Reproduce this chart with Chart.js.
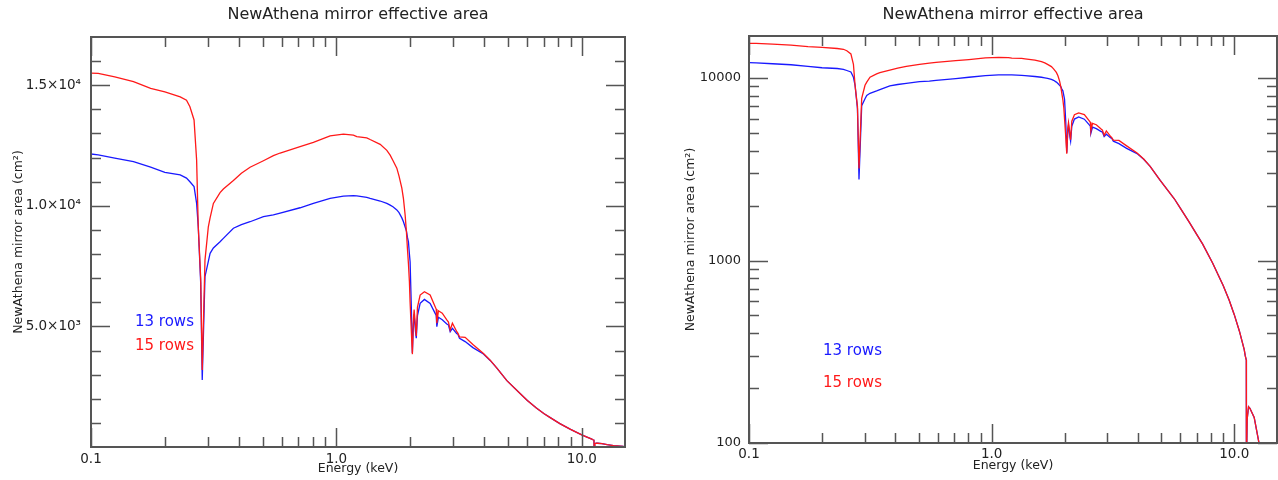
<!DOCTYPE html>
<html>
<head>
<meta charset="utf-8">
<title>NewAthena mirror effective area</title>
<script src="https://cdn.jsdelivr.net/npm/chart.js@4.4.1/dist/chart.umd.min.js"></script>
<style>
  html, body { margin: 0; padding: 0; background: #fff; }
  #wrap { position: relative; width: 1278px; height: 480px; overflow: hidden; }
  .box { position: absolute; top: 0; height: 480px; }
  #boxLin { left: 0; width: 640px; }
  #boxLog { left: 640px; width: 638px; }
</style>
</head>
<body>
<div id="wrap">
  <div class="box" id="boxLin"><canvas id="linChart"></canvas></div>
  <div class="box" id="boxLog"><canvas id="logChart"></canvas></div>
</div>
<script>
// photon energy (keV)
var energy = [
    0.100, 0.107, 0.125, 0.149, 0.175, 0.200, 0.231, 0.245, 0.253, 0.263,
    0.2694, 0.2736, 0.2799, 0.284, 0.2914, 0.3007, 0.3057, 0.3153, 0.3357, 0.3462,
    0.3805, 0.410, 0.4448, 0.5043, 0.5536, 0.5899, 0.7112, 0.8058, 0.9427, 1.068,
    1.173, 1.211, 1.330, 1.372, 1.508, 1.605, 1.656, 1.700, 1.763, 1.800,
    1.848, 1.876, 1.906, 1.930, 1.947, 1.966, 1.984, 1.997, 2.020, 2.040,
    2.060, 2.074, 2.100, 2.116, 2.140, 2.194, 2.284, 2.410, 2.526, 2.551,
    2.566, 2.605, 2.700, 2.818, 2.862, 2.909, 2.970, 3.095, 3.125, 3.174,
    3.347, 3.600, 3.975, 4.233, 4.500, 4.951, 5.660, 6.000, 6.530, 7.000,
    7.410, 8.140, 9.000, 9.530, 10.00, 10.50, 10.99, 11.10, 11.21, 11.22,
    11.30, 11.45, 11.60, 12.08, 12.68, 13.47, 14.79, 15.00
];

// effective area (cm2), 13 rows
var area13 = [
    12150, 12110, 11980, 11830, 11600, 11390, 11280, 11150, 11000, 10800,
    10100, 9130, 6800, 2780, 7060, 7700, 8030, 8250, 8510, 8650,
    9070, 9220, 9340, 9550, 9620, 9700, 9920, 10100, 10310, 10400,
    10420, 10410, 10350, 10310, 10200, 10100, 10030, 9960, 9830, 9720,
    9500, 9340, 9120, 8950, 8700, 8510, 8000, 7680, 5800, 3900,
    5100, 5500, 4800, 4510, 5450, 5960, 6120, 5950, 5540, 5450,
    4990, 5380, 5280, 5100, 5060, 4780, 4920, 4700, 4685, 4510,
    4370, 4120, 3856, 3590, 3280, 2750, 2180, 1930, 1620, 1390,
    1230, 970, 730, 605, 505, 410, 325, 300, 285, 70,
    135, 158, 155, 138, 98, 60, 20, 18
];

// effective area (cm2), 15 rows
var area15 = [
    15500, 15490, 15350, 15150, 14870, 14720, 14520, 14380, 14110, 13560,
    11900, 9130, 7000, 3190, 7750, 9130, 9500, 10100, 10550, 10700,
    11050, 11350, 11600, 11870, 12080, 12190, 12450, 12630, 12900, 12970,
    12930, 12870, 12820, 12750, 12550, 12300, 12100, 11880, 11560, 11230,
    10730, 10300, 9620, 8900, 8240, 7600, 6850, 6000, 4800, 3850,
    5300, 5700, 5000, 4600, 5800, 6300, 6440, 6300, 5820, 5720,
    5130, 5650, 5550, 5270, 5180, 4850, 5130, 4780, 4720, 4570,
    4550, 4250, 3880, 3600, 3280, 2750, 2180, 1930, 1620, 1390,
    1230, 970, 730, 605, 505, 410, 325, 300, 285, 70,
    135, 158, 155, 138, 98, 60, 20, 18
];

// ticks
var xLabelTicks = [0.1, 1, 10];
var xLabelText = ['0.1', '1.0', '10.0'];
var xMinorTicks = [0.2, 0.3, 0.4, 0.5, 0.6, 0.7, 0.8, 0.9, 2, 3, 4, 5, 6, 7, 8, 9];

var linLabelTicks = [5000, 10000, 15000];
var linLabelText = ['5.0\u00d710\u00b3', '1.0\u00d710\u2074', '1.5\u00d710\u2074'];
var linMinorTicks = [1000, 2000, 3000, 4000, 6000, 7000, 8000, 9000, 11000, 12000, 13000, 14000, 16000];

var logLabelTicks = [100, 1000, 10000];
var logLabelText = ['100', '1000', '10000'];
var logMinorTicks = [200, 300, 400, 500, 600, 700, 800, 900, 2000, 3000, 4000, 5000, 6000, 7000, 8000, 9000];

var TITLE = 'NewAthena mirror effective area';
var FONT = 'DejaVu Sans';
var TEXT = '#222';
var AXIS = '#555';
var BLUE = 'rgb(25,25,255)';
var RED = 'rgb(255,25,25)';

function points(vals) {
    return energy.map(function(e, i) { return {x: e, y: vals[i]}; });
}

// IDL style frame: box with inward ticks on all four sides, title over the plot box, row notes
function framePlugin(yMajor, yMinor, notes) {
    return {
        id: 'frame',
        afterDatasetsDraw: function(chart) {
            var ctx = chart.ctx, a = chart.chartArea;
            var sx = chart.scales.x, sy = chart.scales.y;
            ctx.save();
            ctx.strokeStyle = AXIS;
            ctx.lineWidth = 1.5;
            ctx.beginPath();
            function xt(v, len) {
                var p = Math.round(sx.getPixelForValue(v)) + 0.5;
                ctx.moveTo(p, a.bottom); ctx.lineTo(p, a.bottom - len);
                ctx.moveTo(p, a.top); ctx.lineTo(p, a.top + len);
            }
            function yt(v, len) {
                var p = Math.round(sy.getPixelForValue(v)) + 0.5;
                ctx.moveTo(a.left, p); ctx.lineTo(a.left + len, p);
                ctx.moveTo(a.right, p); ctx.lineTo(a.right - len, p);
            }
            xLabelTicks.forEach(function(v) { xt(v, 19); });
            xMinorTicks.forEach(function(v) { xt(v, 10); });
            yMajor.forEach(function(v) { yt(v, 19); });
            yMinor.forEach(function(v) { yt(v, 10); });
            ctx.stroke();
            ctx.lineWidth = 2;
            ctx.strokeRect(a.left, a.top, a.right - a.left, a.bottom - a.top);

            ctx.textBaseline = 'middle';
            ctx.textAlign = 'center';
            ctx.fillStyle = TEXT;
            ctx.font = '16px "' + FONT + '"';
            ctx.fillText(TITLE, (a.left + a.right) / 2, 15);

            ctx.font = '15px "' + FONT + '"';
            ctx.textAlign = 'left';
            notes.forEach(function(n) {
                ctx.fillStyle = n.color;
                ctx.fillText(n.text, a.left + n.dx, n.y);
            });
            ctx.restore();
        }
    };
}

function makeChart(id, yScale, plugin, pad, xHeight, xLabelPad, xTitlePad) {
    return new Chart(document.getElementById(id), {
        type: 'line',
        data: {
            datasets: [
                {
                    label: '13 rows',
                    data: points(area13),
                    borderColor: BLUE,
                    borderWidth: 1.3,
                    pointRadius: 0,
                    tension: 0,
                    order: 2,
                },
                {
                    label: '15 rows',
                    data: points(area15),
                    borderColor: RED,
                    borderWidth: 1.3,
                    pointRadius: 0,
                    tension: 0,
                    order: 1,
                },
            ],
        },
        options: {
            responsive: true,
            maintainAspectRatio: false,
            animation: false,
            devicePixelRatio: 1,
            layout: { padding: pad },
            plugins: {
                legend: { display: false },
                tooltip: { enabled: false },
                title: { display: false },
            },
            scales: {
                x: {
                    type: 'logarithmic',
                    min: 0.1,
                    max: 15,
                    grid: { display: false, drawTicks: false },
                    border: { display: false },
                    afterBuildTicks: function(s) {
                        s.ticks = xLabelTicks.map(function(v) { return {value: v}; });
                    },
                    afterFit: function(s) { s.height = xHeight; },
                    ticks: {
                        autoSkip: false,
                        maxRotation: 0,
                        padding: xLabelPad,
                        color: TEXT,
                        font: { family: FONT, size: 13.5 },
                        callback: function(v, i) { return xLabelText[i]; },
                    },
                    title: {
                        display: true,
                        text: 'Energy (keV)',
                        color: TEXT,
                        font: { family: FONT, size: 12.5 },
                        padding: { top: 0, bottom: xTitlePad },
                    },
                },
                y: yScale,
            },
        },
        plugins: [plugin],
    });
}

// left: linear area axis
makeChart('linChart', {
    type: 'linear',
    min: 0,
    max: 17000,
    grid: { display: false, drawTicks: false },
    border: { display: false },
    afterBuildTicks: function(s) {
        s.ticks = linLabelTicks.map(function(v) { return {value: v}; });
    },
    afterFit: function(s) { s.width = 91; },
    ticks: {
        autoSkip: false,
        padding: 10,
        color: TEXT,
        font: { family: FONT, size: 13.5 },
        callback: function(v, i) { return linLabelText[i]; },
    },
    title: {
        display: true,
        text: 'NewAthena mirror area (cm\u00b2)',
        color: TEXT,
        font: { family: FONT, size: 12.5 },
        padding: { top: 11, bottom: 0 },
    },
}, framePlugin(linLabelTicks, linMinorTicks, [
    { text: '13 rows', color: BLUE, dx: 44, y: 322 },
    { text: '15 rows', color: RED, dx: 44, y: 346 },
]), { left: 0, right: 15, top: 37, bottom: 0 }, 33, 4, 4);

// right: logarithmic area axis
makeChart('logChart', {
    type: 'logarithmic',
    min: 100,
    max: 17000,
    grid: { display: false, drawTicks: false },
    border: { display: false },
    afterBuildTicks: function(s) {
        s.ticks = logLabelTicks.map(function(v) { return {value: v}; });
    },
    afterFit: function(s) { s.width = 109; },
    ticks: {
        autoSkip: false,
        padding: 8,
        color: TEXT,
        font: { family: FONT, size: 13 },
        callback: function(v, i) { return logLabelText[i]; },
    },
    title: {
        display: true,
        text: 'NewAthena mirror area (cm\u00b2)',
        color: TEXT,
        font: { family: FONT, size: 12.5 },
        padding: { top: 43, bottom: 0 },
    },
}, framePlugin(logLabelTicks, logMinorTicks, [
    { text: '13 rows', color: BLUE, dx: 74, y: 351 },
    { text: '15 rows', color: RED, dx: 74, y: 383 },
]), { left: 0, right: 1, top: 36, bottom: 0 }, 37, 3, 7);
</script>
</body>
</html>
